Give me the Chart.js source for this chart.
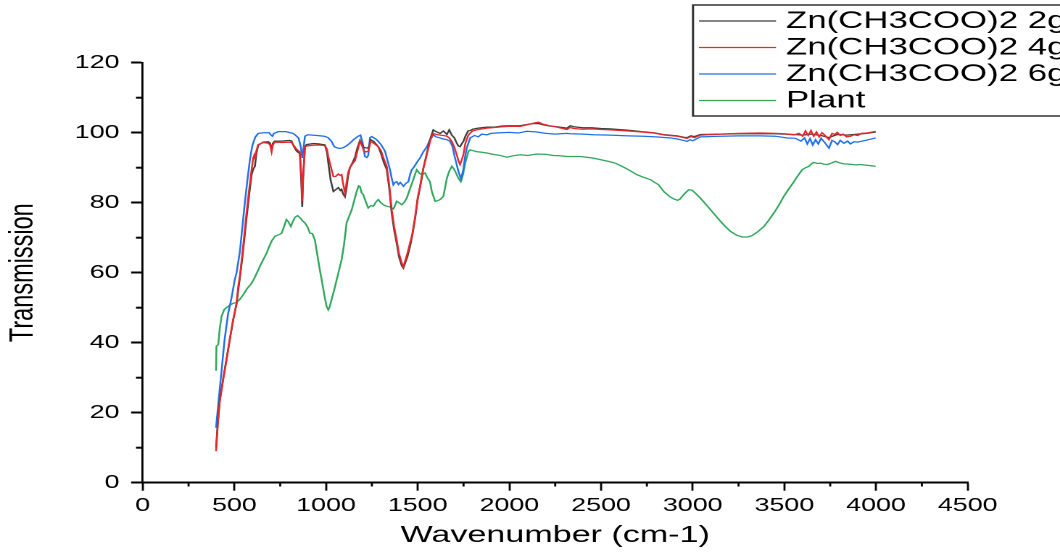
<!DOCTYPE html>
<html><head><meta charset="utf-8">
<script src="https://cdn.jsdelivr.net/npm/chart.js@4.4.1/dist/chart.umd.min.js"></script>
<style>
html,body{margin:0;padding:0;background:#fff;overflow:hidden}
#outer{width:1060px;height:553px;overflow:hidden;position:relative;background:#fff}
#inner{position:absolute;left:0;top:0;transform-origin:0 0}
</style></head><body>
<div id="outer"><div id="inner"><canvas id="c" width="731" height="553"></canvas></div></div>
<script>
// ---------------- data ----------------
const seriesNames = ["Zn(CH3COO)2 2g", "Zn(CH3COO)2 4g", "Zn(CH3COO)2 6g", "Plant"];
const xAxisTitle = "Wavenumber (cm-1)";
const yAxisTitle = "Transmission";
const xTickValues = [0, 500, 1000, 1500, 2000, 2500, 3000, 3500, 4000, 4500];
const yTickValues = [0, 20, 40, 60, 80, 100, 120];
const xMinorTicks = [250, 750, 1250, 1750, 2250, 2750, 3250, 3750, 4250];
const yMinorTicks = [10, 30, 50, 70, 90, 110];

const zn2X = [400,410,420,439,457,475,493,512,521,530,545,566,580,594,603,612,620,630,657,685,695,703,710,720,760,800,812,825,839,857,865,870,875,885,894,930,960,994,1005,1012,1025,1040,1052,1067,1078,1085,1093,1103,1110,1120,1130,1145,1158,1170,1185,1195,1205,1215,1230,1237,1243,1260,1285,1300,1315,1331,1345,1358,1372,1385,1398,1413,1422,1432,1444,1458,1470,1486,1500,1513,1522,1531,1545,1558,1570,1585,1600,1622,1640,1659,1672,1686,1700,1713,1722,1731,1740,1749,1760,1775,1786,1800,1830,1877,1920,1960,2000,2059,2100,2130,2159,2180,2220,2260,2314,2332,2350,2400,2450,2500,2550,2650,2720,2786,2850,2915,2950,2969,2990,3010,3042,3150,3250,3370,3450,3500,3552,3600,3650,3700,3743,3789,3840,3900,3950,3998];
const zn2Y = [10,17.5,23.5,29.8,35.3,41,46.4,51,55,58.5,65,75.5,82,88,89.6,90.4,94,96.4,97.3,97.4,97,95.2,97,97.6,97.6,97.8,97.6,96,94.8,94,86,78.8,87,96,96.6,96.9,96.8,96.5,94.5,91.5,86.5,83.2,83.7,84.3,83.5,83.8,82.5,81.7,83.5,87.5,90,91.5,93,95.5,97.8,96.8,95.8,95.7,95.6,96.5,98,97.5,96,94,91.5,89.5,84,77,72,68.5,64.5,62,61.3,62.8,64.6,67.5,70.5,75.5,81,84.5,87,89.9,93,96,98.5,100.8,100.3,99.8,100.5,99.5,100.8,99.3,98.5,97,96.2,96,96.8,97.5,99,100.5,100.6,101,101.3,101.6,101.6,101.9,102,102,102.4,102.6,102.6,102.3,101.9,101.7,101.3,102,101.7,101.4,101.4,101.2,101.1,100.7,100.3,100,99.4,99.1,98.7,98.6,99.1,98.9,99.5,99.6,99.7,99.7,99.7,99.6,99.5,99.3,99.6,99.2,98.6,99.5,99.3,99.6,99.8,100.2];

const zn4X = [400,410,420,439,457,475,493,512,521,530,545,566,580,594,603,608,612,618,630,657,685,695,703,710,720,760,800,812,825,839,857,865,870,875,885,894,930,960,994,1005,1012,1025,1040,1052,1067,1078,1085,1093,1103,1110,1120,1130,1145,1158,1170,1185,1195,1205,1215,1230,1237,1243,1260,1285,1300,1315,1331,1345,1358,1372,1385,1398,1413,1422,1432,1444,1458,1470,1486,1500,1513,1522,1531,1545,1558,1570,1585,1600,1622,1640,1659,1672,1686,1700,1713,1722,1731,1740,1749,1760,1775,1786,1800,1830,1877,1920,1960,2000,2059,2100,2130,2159,2180,2220,2260,2314,2332,2350,2400,2450,2500,2550,2650,2720,2786,2850,2915,2950,2969,2990,3010,3042,3150,3250,3370,3450,3500,3552,3580,3600,3615,3630,3645,3660,3675,3690,3705,3720,3743,3760,3775,3789,3805,3820,3840,3862,3880,3900,3920,3950,3998];
const zn4Y = [9,17,23,29.4,35,40.9,46.5,51.4,56,59,66,77,83.5,89.4,92.8,93.5,92.4,94.5,96.6,97.2,97,96.5,94.5,96.5,97.3,97.2,97.3,97.2,96.3,95.3,94.5,88,80.5,88,96,96.2,96.4,96.5,96.3,95.3,93.2,90.5,87.5,87.5,88.2,87.8,88,85.5,82.8,85,88.5,90,91.2,92,94.5,97.5,96.5,95,94.5,94.7,96,97.5,97,96,94.8,92.5,90.4,85,78,73,69.4,65.5,62.8,61.7,63.5,65.6,68.5,71,76,81.5,84.7,87.5,89.9,92.8,95.6,98,99.8,99.5,99.3,99.2,99,98.5,97.5,95.8,93.7,92,90.9,92.2,93.7,97,99.2,99.9,100.5,100.9,101.3,101.5,101.7,101.8,101.8,102.3,102.7,103,102.5,102,101.6,100.9,101.5,101.2,101,101.1,100.9,100.8,100.5,100.2,99.9,99.3,99,98.6,98.4,98.9,98.6,99.3,99.6,99.8,99.9,99.8,99.7,99.4,99.8,99,100.5,99.2,100.6,99,100.2,98.8,100,99.3,98,99.8,99.5,100.1,99.2,99.6,98.8,99,99.4,99.2,99.8,99.9,100.4];

const zn6X = [400,415,430,447,465,485,502,512,530,557,570,584,595,602,615,630,660,690,700,708,715,740,780,820,835,850,862,870,878,885,900,950,990,1011,1030,1045,1058,1075,1093,1110,1130,1150,1175,1188,1200,1212,1222,1230,1240,1250,1276,1300,1322,1338,1349,1358,1367,1376,1385,1395,1405,1415,1422,1435,1449,1458,1467,1480,1495,1513,1530,1550,1567,1585,1600,1622,1640,1660,1677,1690,1700,1712,1722,1735,1742,1749,1758,1768,1786,1810,1830,1850,1877,1900,1950,2000,2050,2095,2150,2200,2250,2277,2314,2332,2400,2459,2550,2650,2731,2800,2880,2915,2950,2969,2985,3000,3042,3150,3250,3370,3450,3516,3560,3590,3610,3625,3640,3655,3670,3685,3700,3720,3743,3760,3775,3790,3805,3825,3845,3860,3880,3900,3916,3950,3998];
const zn6Y = [15.7,24,32,41,48,53,58,60,66,80,86,92,95.5,97,98.8,99.8,100,100,99.3,99,99.8,100.3,100.3,99.8,99.2,98.5,96,92.8,96,99,99.4,99.2,99,98.6,97.5,96,95.7,95.5,95.7,96.2,97,98,99,99.3,97,93.2,92.9,93.5,98.6,98.9,98,96.6,94.7,91.5,89.4,87,85.1,85.8,86,85.2,85.8,85.2,84.7,85.5,86,88,89.4,90.2,91.5,92.8,94.5,96,98,99.4,98.8,98.5,98.2,98,97.5,96,93.5,91,89,86.9,88,89.5,93,95.7,98.5,99.2,98.8,99.6,99.4,99.8,100,100.1,99.9,100.4,100.2,99.8,99.6,99.7,99.8,99.7,99.6,99.4,99.3,99.1,99,98.8,98.5,98.2,97.8,97.5,98,97.7,98.8,99,99.1,99.1,99,98.5,98.4,97.6,98.5,96.8,98.3,96.5,98,96.8,98.4,97.2,95.6,97.8,97.4,96.6,97.8,97,97.6,96.8,97.4,97.3,97.5,97.9,98.5];

const plantX = [400,402,412,420,430,445,466,490,512,530,548,570,594,610,625,639,655,676,690,705,721,740,757,770,784,794,800,808,818,830,845,860,872,885,900,912,925,939,948,957,966,976,990,1003,1012,1020,1030,1045,1058,1070,1085,1098,1112,1125,1140,1153,1167,1178,1185,1194,1203,1215,1230,1245,1258,1272,1285,1298,1313,1330,1349,1367,1376,1385,1398,1413,1428,1440,1458,1476,1486,1495,1510,1522,1540,1552,1567,1577,1595,1610,1622,1640,1650,1659,1672,1686,1695,1704,1722,1735,1742,1749,1760,1777,1786,1820,1850,1877,1910,1950,1986,2020,2059,2100,2150,2200,2241,2277,2314,2387,2450,2496,2540,2578,2614,2650,2696,2730,2769,2814,2842,2878,2900,2918,2930,2942,2960,2978,2996,3015,3042,3070,3097,3125,3151,3180,3206,3240,3270,3300,3324,3355,3388,3415,3442,3470,3497,3525,3552,3575,3597,3615,3634,3650,3661,3680,3697,3715,3734,3755,3779,3800,3825,3860,3890,3916,3950,3998];
const plantY = [32,39,39.5,44,47.5,49.5,50.4,51.2,51.5,52.4,53.7,55.5,57,58.5,60.2,61.8,63.5,65.6,67.5,69.2,70.4,70.8,71.2,73,75.2,74.6,74,73.2,74.5,75.8,76.3,75.6,74.8,74.2,73,71.3,71.2,69.4,66.5,63.7,60.8,58,53.8,50.4,49.4,50.3,52.3,55.2,58,60.5,63.7,68,74.2,76,78,80.5,83.2,84.8,84.6,82.8,82.3,80.5,78.5,79.2,79,80.2,80.9,80,79.4,79,78.8,78.2,79.2,80.4,80,79.4,80.2,81.3,84,86.6,88.2,89.4,88.4,88,88.5,87.2,86,83.2,80.4,80.6,80.9,81.8,84.5,87,89,90.4,89.8,89,87,86,87,88.5,91.5,94.7,95.1,94.6,94.4,94.2,93.8,93.5,93,93.4,93.7,93.5,93.9,93.8,93.5,93.4,93.2,93.2,92.8,92.3,91.8,91.3,90.4,89.4,88,87.3,86.6,85.1,83.2,81.6,81,80.7,81,81.8,82.8,83.7,83.6,82.7,81.3,79.6,78,76.3,74.7,73.1,71.8,70.7,70.2,70.2,70.6,71.7,73.2,75,77,79.3,81.8,84,86,87.8,89.4,90,90.4,91.2,91.5,91.2,91.3,91,90.9,91.3,91.8,91.4,91.1,91,90.8,90.9,90.7,90.4];

const seriesColors = ["#3c3c3c", "#e8262c", "#1f6fe8", "#2fa65a"];
const seriesOrder = [1, 0, 2, 3];

// ---------------- layout (real pixels → logical canvas units) ----------------
const S = 1060 / 731;            // horizontal stretch of the reference picture
const LW = 731, LH = 553;
document.getElementById('inner').style.width = LW + 'px';
document.getElementById('inner').style.height = LH + 'px';
document.getElementById('inner').style.transform = 'scaleX(' + S + ')';

const areaLeft = 142.7 / S, areaRight = 967.7 / S, areaTop = 62.7, areaBottom = 482.7;

function pts(xs, ys) { return xs.map((x, i) => ({ x: x, y: ys[i] })); }
const allX = [zn2X, zn4X, zn6X, plantX];
const allY = [zn2Y, zn4Y, zn6Y, plantY];

const datasets = seriesNames.map((n, i) => ({
  label: n,
  data: pts(allX[i], allY[i]),
  borderColor: seriesColors[i],
  backgroundColor: seriesColors[i],
  borderWidth: 1.25,
  pointRadius: 0,
  tension: 0,
  fill: false,
  order: seriesOrder[i]
}));

const extras = {
  id: 'extras',
  afterDraw(chart) {
    const ctx = chart.ctx, xs = chart.scales.x, ys = chart.scales.y;
    ctx.save();
    ctx.strokeStyle = '#000';
    // minor ticks
    ctx.lineWidth = 1.4;
    xMinorTicks.forEach(v => {
      const p = xs.getPixelForValue(v);
      ctx.beginPath(); ctx.moveTo(p, ys.bottom); ctx.lineTo(p, ys.bottom + 3.8); ctx.stroke();
    });
    ctx.lineWidth = 2;
    yMinorTicks.forEach(v => {
      const p = ys.getPixelForValue(v);
      ctx.beginPath(); ctx.moveTo(xs.left, p); ctx.lineTo(xs.left - 4.6, p); ctx.stroke();
    });
    // legend box
    const bx = 693 / S, by = 5, bw = 400, bh = 111;
    ctx.lineWidth = 1.5;
    ctx.strokeStyle = '#333';
    ctx.strokeRect(bx, by, bw, bh);
    const rows = [21, 47.5, 74, 100.5];
    ctx.font = '24px "Liberation Sans", Arial, sans-serif';
    ctx.textBaseline = 'middle';
    ctx.textAlign = 'left';
    seriesNames.forEach((n, i) => {
      ctx.strokeStyle = seriesColors[i];
      ctx.lineWidth = 1.2;
      ctx.beginPath(); ctx.moveTo(699 / S, rows[i]); ctx.lineTo(776 / S, rows[i]); ctx.stroke();
      ctx.fillStyle = '#000';
      ctx.fillText(n, 786 / S, rows[i] + 0.5);
    });
    ctx.restore();
  }
};

const tickFont = { family: '"Liberation Sans", Arial, sans-serif', size: 18.5 };
const titleFont = { family: '"Liberation Sans", Arial, sans-serif', size: 23.5 };

new Chart(document.getElementById('c'), {
  type: 'line',
  data: { datasets: datasets },
  plugins: [extras],
  options: {
    responsive: false,
    devicePixelRatio: 2,
    animation: false,
    parsing: true,
    layout: { padding: { left: 0, top: areaTop, right: LW - areaRight, bottom: 0 } },
    plugins: { legend: { display: false }, tooltip: { enabled: false }, title: { display: false } },
    scales: {
      x: {
        type: 'linear', min: 0, max: 4500,
        afterFit(s) { s.height = LH - areaBottom; },
        afterBuildTicks(s) { s.ticks = xTickValues.map(v => ({ value: v })); },
        ticks: { color: '#000', font: tickFont, padding: 4, maxRotation: 0, autoSkip: false, callback: v => String(v) },
        grid: { drawOnChartArea: false, drawTicks: true, tickLength: 8, tickWidth: 1.4, tickColor: '#000' },
        border: { display: true, color: '#000', width: 2 },
        title: { display: true, text: xAxisTitle, color: '#000', font: titleFont, padding: { top: 0, bottom: 3.2 } }
      },
      y: {
        type: 'linear', min: 0, max: 120,
        afterFit(s) { s.width = areaLeft; },
        afterBuildTicks(s) { s.ticks = yTickValues.map(v => ({ value: v })); },
        ticks: { color: '#000', font: tickFont, padding: 8, autoSkip: false, callback: v => String(v) },
        grid: { drawOnChartArea: false, drawTicks: true, tickLength: 8, tickWidth: 2, tickColor: '#000' },
        border: { display: true, color: '#000', width: 1.4 },
        title: { display: true, text: yAxisTitle, color: '#000', font: titleFont, padding: { top: 2, bottom: 0 } }
      }
    }
  }
});
</script>
</body></html>
